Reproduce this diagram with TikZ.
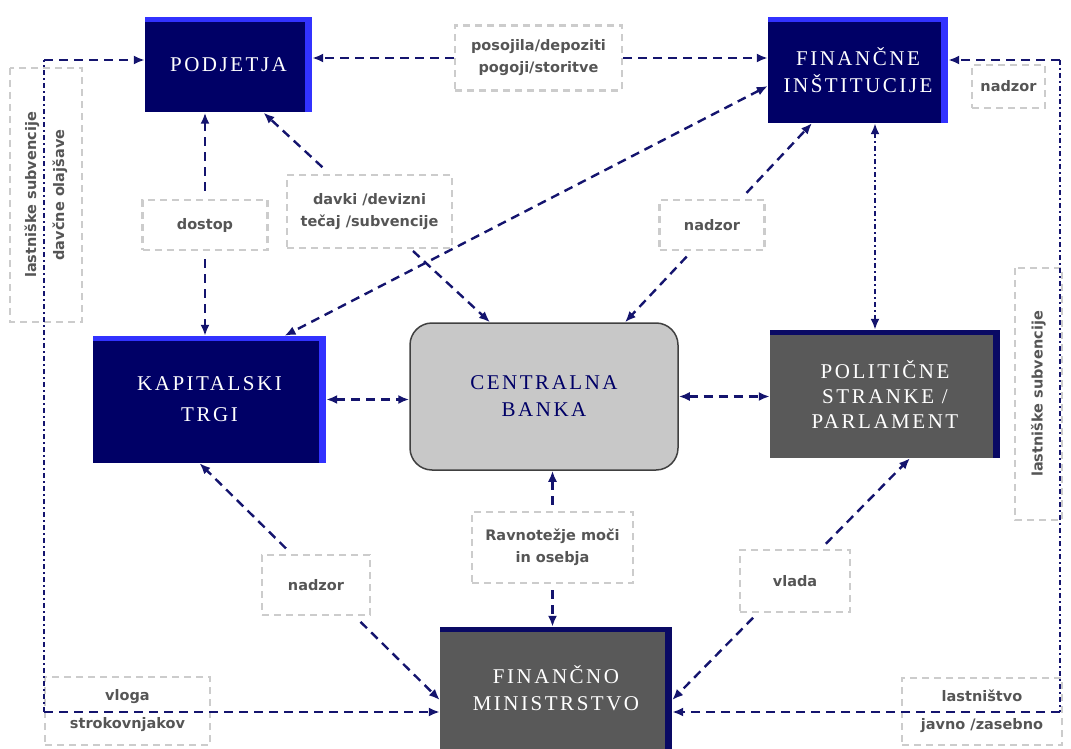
\documentclass[tikz,border=0pt]{standalone}
\usepackage{fontspec}
\setmainfont{Liberation Serif}
\newfontfamily\boxfont[LetterSpace=12]{Liberation Serif}
\newfontfamily\labfont{DejaVu Sans}
\usetikzlibrary{arrows.meta,calc}

\definecolor{navyfill}{RGB}{0,0,102}
\definecolor{navyrim}{RGB}{50,50,255}
\definecolor{slatefill}{RGB}{89,89,89}
\definecolor{slaterim}{RGB}{10,10,100}
\definecolor{bankfill}{RGB}{200,200,200}
\definecolor{linkcol}{RGB}{20,20,110}
\definecolor{labtext}{RGB}{85,85,85}
\definecolor{labframe}{RGB}{204,204,204}

\tikzset{
  rim/.style={path picture={
      \fill[#1] (path picture bounding box.north west) rectangle ([yshift=-5pt]path picture bounding box.north east);
      \fill[#1] ([xshift=-7pt]path picture bounding box.north east) rectangle (path picture bounding box.south east);}},
  mainbox/.style={rectangle, inner sep=0pt, align=center, text=white,
      font=\boxfont\fontsize{21}{27}\selectfont},
  bluebox/.style={mainbox, fill=navyfill, rim=navyrim},
  slatebox/.style={mainbox, fill=slatefill, rim=slaterim},
  bankbox/.style={mainbox, fill=bankfill, draw=black!75, line width=1.5pt,
      rounded corners=22pt, text=navyfill},
  lab/.style={draw=labframe, line width=2.6pt, dash pattern=on 7pt off 5pt,
      inner sep=0pt, align=center, text=labtext,
      font=\labfont\bfseries\fontsize{14.5}{22}\selectfont},
  widelab/.style={font=\labfont\bfseries\fontsize{14.5}{28}\selectfont},
  link/.style={draw=linkcol, line width=2.4pt, dash pattern=on 9pt off 6pt},
  finelink/.style={draw=linkcol, line width=2.4pt, dash pattern=on 5pt off 3pt on 2pt off 3pt},
  >={Latex[length=11pt,width=9pt]}
}

\begin{document}
\begin{tikzpicture}[x=1pt,y=-1pt]
\useasboundingbox (0,0) rectangle (1071,749);

% institutions
\node[bluebox, minimum width=167, minimum height=95] (podjetja) at (228.5,65) {PODJETJA};
\node[bluebox, minimum width=180, minimum height=106] (fininst) at (858,70) {FINANČNE\\INŠTITUCIJE};
\node[bluebox, minimum width=233, minimum height=127, font=\boxfont\fontsize{21}{31}\selectfont] (kapital) at (209.5,399.5) {KAPITALSKI\\TRGI};
\node[bankbox, minimum width=268, minimum height=147] (cb) at (544,396.5) {CENTRALNA\\BANKA};
\node[slatebox, minimum width=230, minimum height=128, font=\boxfont\fontsize{21}{25}\selectfont] (politicne) at (885,394) {POLITIČNE\\STRANKE /\\PARLAMENT};
\node[slatebox, minimum width=232, minimum height=122] (finmin) at (556,688) {FINANČNO\\MINISTRSTVO};

% relation labels
\node[lab, minimum width=167, minimum height=65] (l1) at (538.5,58) {posojila/depoziti\\pogoji/storitve};
\node[lab, minimum width=125, minimum height=50] (l2) at (205,225) {dostop};
\node[lab, minimum width=165, minimum height=73] (l3) at (369.5,211.5) {davki /devizni\\tečaj /subvencije};
\node[lab, minimum width=105, minimum height=50] (l4) at (712,225) {nadzor};
\node[lab, widelab, rotate=90, minimum width=254, minimum height=72] (l5) at (46,195) {lastniške subvencije\\davčne olajšave};
\node[lab, minimum width=73, minimum height=43] (l6) at (1008.5,86.5) {nadzor};
\node[lab, rotate=90, minimum width=252, minimum height=47] (l7) at (1038.5,394) {lastniške subvencije};
\node[lab, minimum width=161, minimum height=71] (l8) at (552.5,547.5) {Ravnotežje moči\\in osebja};
\node[lab, minimum width=108, minimum height=60] (l9) at (316,585) {nadzor};
\node[lab, minimum width=110, minimum height=62] (l10) at (795,581) {vlada};
\node[lab, widelab, minimum width=165, minimum height=68] (l11) at (127.5,711) {vloga\\strokovnjakov};
\node[lab, widelab, minimum width=160, minimum height=67] (l12) at (982,711.5) {lastništvo\\javno /zasebno};

% loans and deposits
\draw[link,->] (l1.west) -- (podjetja.east |- l1.west);
\draw[link,->] (l1.east) -- (fininst.west |- l1.east);

% access
\draw[link,->] ([yshift=8pt]l2.north) -- (podjetja.south -| l2.north);
\draw[link,->] ([yshift=-8pt]l2.south) -- (kapital.north -| l2.south);

% taxes / exchange rate / subsidies
\coordinate (pa) at ([xshift=35pt]podjetja.south);
\coordinate (pb) at ([xshift=-54pt]cb.north);
\draw[link,->] ($(pa)!0.26!(pb)$) -- (pa);
\draw[link,->] ($(pa)!0.66!(pb)$) -- (pb);

% financial institutions and capital markets
\draw[link,<->] ([yshift=-16pt]fininst.west) -- ([xshift=75pt]kapital.north);

% supervision of financial institutions
\coordinate (fa) at ([xshift=-46pt]fininst.south);
\coordinate (fb) at ([xshift=81pt]cb.north);
\draw[link,->] ($(fa)!0.35!(fb)$) -- (fa);
\draw[link,->] ($(fa)!0.67!(fb)$) -- (fb);

% financial institutions and parliament
\draw[finelink,<->] ([xshift=17pt]fininst.south) -- ([xshift=-10pt]politicne.north);

% central bank links
\draw[link,<->] (kapital.east) -- (cb.west |- kapital.east);
\draw[link,<->] (cb.east) -- (politicne.west |- cb.east);
\draw[link,->] ([yshift=6pt]l8.north) -- (cb.south -| l8.north);
\draw[link,->] ([yshift=-6pt]l8.south) -- (finmin.north -| l8.south);

% supervision of capital markets
\coordinate (ka) at ([xshift=-10pt]kapital.south);
\coordinate (kb) at ([yshift=-12pt]finmin.west);
\draw[link,->] ($(ka)!0.36!(kb)$) -- (ka);
\draw[link,->] ($(ka)!0.67!(kb)$) -- (kb);

% government
\coordinate (ga) at ([xshift=25pt]politicne.south);
\coordinate (gb) at ([yshift=-12pt]finmin.east);
\draw[link,->] ($(ga)!0.354!(gb)$) -- (ga);
\draw[link,->] ($(ga)!0.66!(gb)$) -- (gb);

% outer loops: long horizontal runs and fine-dashed vertical runs
\coordinate (lb) at (44,712);
\coordinate (lt) at (44,60);
\draw[link,->] (lb) -- (finmin.west |- lb);
\draw[finelink] (lb) -- (lt);
\draw[link,->] (lt) -- (podjetja.west |- lt);
\coordinate (rt) at (1060,60);
\coordinate (rb) at (1060,712);
\draw[link,->] (rt) -- (fininst.east |- rt);
\draw[finelink] (rt) -- (rb);
\draw[link,->] (rb) -- (finmin.east |- rb);
\end{tikzpicture}
\end{document}
